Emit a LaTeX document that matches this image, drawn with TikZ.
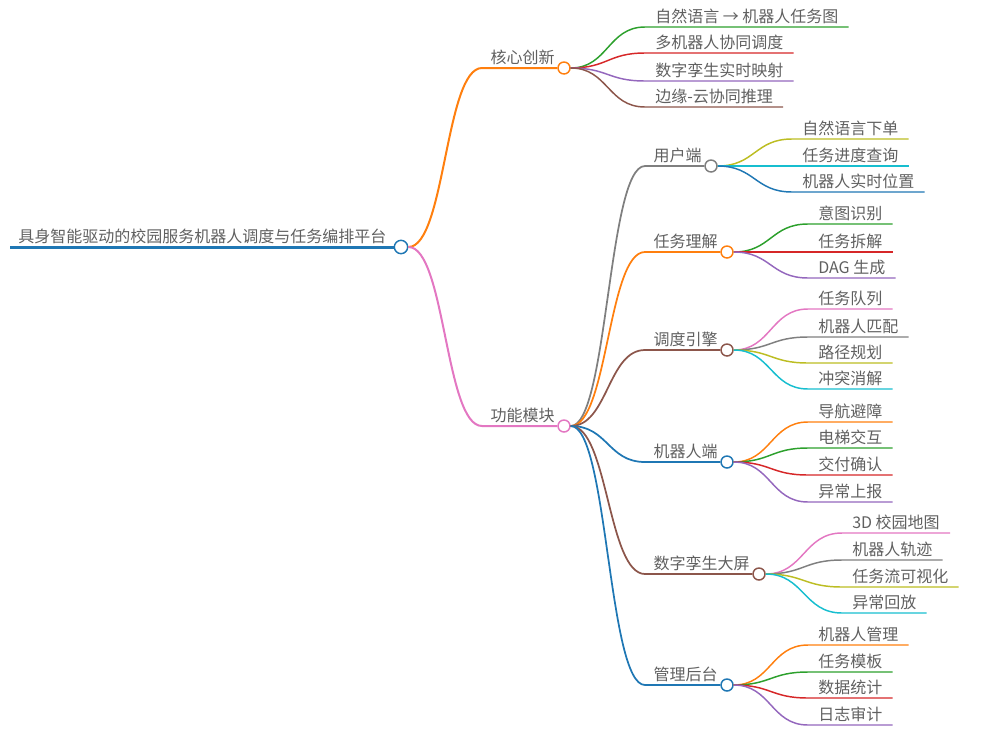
\documentclass[tikz,border=0pt]{standalone}
\usepackage{fontspec}
\setmainfont{Noto Sans CJK SC}
\usetikzlibrary{calc}

\definecolor{cblue}{HTML}{1F77B4}
\definecolor{corange}{HTML}{FF7F0E}
\definecolor{cgreen}{HTML}{2CA02C}
\definecolor{cred}{HTML}{D62728}
\definecolor{cpurple}{HTML}{9467BD}
\definecolor{cbrown}{HTML}{8C564B}
\definecolor{cpink}{HTML}{E377C2}
\definecolor{cgray}{HTML}{7F7F7F}
\definecolor{colive}{HTML}{BCBD22}
\definecolor{ccyan}{HTML}{17BECF}
\definecolor{textgray}{HTML}{606060}

\tikzset{
  txt/.style={font=\fontsize{12}{14}\selectfont, text=textgray, inner sep=0pt},
  hub/.style={circle, draw=#1, fill=white, line width=1.1pt, minimum size=9pt, inner sep=0pt},
  link/.style={to path={let \p1=(\tikztostart), \p2=(\tikztotarget) in
      .. controls ({(\x1+\x2)/2},\y1) and ({(\x1+\x2)/2},\y2) .. (\tikztotarget)}},
  mainline/.style={draw=#1, line width=1.5pt},
  subline/.style={draw=#1, line width=1.3pt},
  leafline/.style={draw=#1, line width=1.1pt}
}

\begin{document}
\begin{tikzpicture}[x=0.75pt,y=-0.75pt]
\useasboundingbox (0,0) rectangle (1003,750);

% root
\coordinate (s0) at (10,247);
\node[hub=cblue, minimum size=10pt] (root) at (401,247) {};
\node[txt, anchor=base west] (t0) at ([shift={(8,-5)}]s0) {具身智能驱动的校园服务机器人调度与任务编排平台};
\draw[cblue, line width=2.25pt] (s0) -- (root);

% first level
\coordinate (s1) at (482,68);
\node[hub=corange] (c1) at (564,68) {};
\node[txt, anchor=base east] (t1) at ([shift={(-9,-5)}]c1.center) {核心创新};
\draw[mainline=corange] (root.east) to[link] (s1) -- (c1);

\coordinate (s2) at (482,426);
\node[hub=cpink] (c2) at (564,426) {};
\node[txt, anchor=base east] (t2) at ([shift={(-9,-5)}]c2.center) {功能模块};
\draw[mainline=cpink] (root.east) to[link] (s2) -- (c2);

% core ideas
\coordinate (s11) at (645,27);
\coordinate (s12) at (645,53);
\coordinate (s13) at (645,81);
\coordinate (s14) at (645,107);
\node[txt, anchor=base west] (l11) at ([shift={(10,-5)}]s11) {自然语言 → 机器人任务图};
\node[txt, anchor=base west] (l12) at ([shift={(10,-5)}]s12) {多机器人协同调度};
\node[txt, anchor=base west] (l13) at ([shift={(10,-5)}]s13) {数字孪生实时映射};
\node[txt, anchor=base west] (l14) at ([shift={(10,-5)}]s14) {边缘-云协同推理};
\draw[leafline=cgreen] (c1.east) to[link] (s11) -- ($(l11.base east |- s11)+(10,0)$);
\draw[leafline=cred] (c1.east) to[link] (s12) -- ($(l12.base east |- s12)+(10,0)$);
\draw[leafline=cpurple] (c1.east) to[link] (s13) -- ($(l13.base east |- s13)+(10,0)$);
\draw[leafline=cbrown] (c1.east) to[link] (s14) -- ($(l14.base east |- s14)+(10,0)$);

% modules
\coordinate (s21) at (645,166);
\coordinate (s22) at (645,252);
\coordinate (s23) at (645,350);
\coordinate (s24) at (645,462);
\coordinate (s25) at (645,574);
\coordinate (s26) at (645,685);
\node[hub=cgray] (c21) at (711,166) {};
\node[hub=corange] (c22) at (727,252) {};
\node[hub=cbrown] (c23) at (727,350) {};
\node[hub=cblue] (c24) at (727,462) {};
\node[hub=cbrown] (c25) at (759,574) {};
\node[hub=cblue] (c26) at (727,685) {};
\node[txt, anchor=base east] (t21) at ([shift={(-9,-5)}]c21.center) {用户端};
\node[txt, anchor=base east] (t22) at ([shift={(-9,-5)}]c22.center) {任务理解};
\node[txt, anchor=base east] (t23) at ([shift={(-9,-5)}]c23.center) {调度引擎};
\node[txt, anchor=base east] (t24) at ([shift={(-9,-5)}]c24.center) {机器人端};
\node[txt, anchor=base east] (t25) at ([shift={(-9,-5)}]c25.center) {数字孪生大屏};
\node[txt, anchor=base east] (t26) at ([shift={(-9,-5)}]c26.center) {管理后台};
\draw[subline=cgray] (c2.east) to[link] (s21) -- (c21);
\draw[subline=corange] (c2.east) to[link] (s22) -- (c22);
\draw[subline=cbrown] (c2.east) to[link] (s23) -- (c23);
\draw[subline=cblue] (c2.east) to[link] (s24) -- (c24);
\draw[subline=cbrown] (c2.east) to[link] (s25) -- (c25);
\draw[subline=cblue] (c2.east) to[link] (s26) -- (c26);

% user side
\coordinate (s211) at (792,139);
\coordinate (s212) at (792,166);
\coordinate (s213) at (792,192);
\node[txt, anchor=base west] (l211) at ([shift={(10,-5)}]s211) {自然语言下单};
\node[txt, anchor=base west] (l212) at ([shift={(10,-5)}]s212) {任务进度查询};
\node[txt, anchor=base west] (l213) at ([shift={(10,-5)}]s213) {机器人实时位置};
\draw[leafline=colive] (c21.east) to[link] (s211) -- ($(l211.base east |- s211)+(10,0)$);
\draw[leafline=ccyan] (c21.east) to[link] (s212) -- ($(l212.base east |- s212)+(10,0)$);
\draw[leafline=cblue] (c21.east) to[link] (s213) -- ($(l213.base east |- s213)+(10,0)$);

% task understanding
\coordinate (s221) at (808,224);
\coordinate (s222) at (808,252);
\coordinate (s223) at (808,278);
\node[txt, anchor=base west] (l221) at ([shift={(10,-5)}]s221) {意图识别};
\node[txt, anchor=base west] (l222) at ([shift={(10,-5)}]s222) {任务拆解};
\node[txt, anchor=base west] (l223) at ([shift={(10,-5)}]s223) {DAG 生成};
\draw[leafline=cgreen] (c22.east) to[link] (s221) -- ($(l221.base east |- s221)+(10,0)$);
\draw[leafline=cred] (c22.east) to[link] (s222) -- ($(l222.base east |- s222)+(10,0)$);
\draw[leafline=cpurple] (c22.east) to[link] (s223) -- ($(l223.base east |- s223)+(10,0)$);

% scheduling engine
\coordinate (s231) at (808,309);
\coordinate (s232) at (808,337);
\coordinate (s233) at (808,363);
\coordinate (s234) at (808,389);
\node[txt, anchor=base west] (l231) at ([shift={(10,-5)}]s231) {任务队列};
\node[txt, anchor=base west] (l232) at ([shift={(10,-5)}]s232) {机器人匹配};
\node[txt, anchor=base west] (l233) at ([shift={(10,-5)}]s233) {路径规划};
\node[txt, anchor=base west] (l234) at ([shift={(10,-5)}]s234) {冲突消解};
\draw[leafline=cpink] (c23.east) to[link] (s231) -- ($(l231.base east |- s231)+(10,0)$);
\draw[leafline=cgray] (c23.east) to[link] (s232) -- ($(l232.base east |- s232)+(10,0)$);
\draw[leafline=colive] (c23.east) to[link] (s233) -- ($(l233.base east |- s233)+(10,0)$);
\draw[leafline=ccyan] (c23.east) to[link] (s234) -- ($(l234.base east |- s234)+(10,0)$);

% robot side
\coordinate (s241) at (808,422);
\coordinate (s242) at (808,448);
\coordinate (s243) at (808,475);
\coordinate (s244) at (808,502);
\node[txt, anchor=base west] (l241) at ([shift={(10,-5)}]s241) {导航避障};
\node[txt, anchor=base west] (l242) at ([shift={(10,-5)}]s242) {电梯交互};
\node[txt, anchor=base west] (l243) at ([shift={(10,-5)}]s243) {交付确认};
\node[txt, anchor=base west] (l244) at ([shift={(10,-5)}]s244) {异常上报};
\draw[leafline=corange] (c24.east) to[link] (s241) -- ($(l241.base east |- s241)+(10,0)$);
\draw[leafline=cgreen] (c24.east) to[link] (s242) -- ($(l242.base east |- s242)+(10,0)$);
\draw[leafline=cred] (c24.east) to[link] (s243) -- ($(l243.base east |- s243)+(10,0)$);
\draw[leafline=cpurple] (c24.east) to[link] (s244) -- ($(l244.base east |- s244)+(10,0)$);

% digital twin screen
\coordinate (s251) at (842,533);
\coordinate (s252) at (842,560);
\coordinate (s253) at (842,587);
\coordinate (s254) at (842,613);
\node[txt, anchor=base west] (l251) at ([shift={(10,-5)}]s251) {3D 校园地图};
\node[txt, anchor=base west] (l252) at ([shift={(10,-5)}]s252) {机器人轨迹};
\node[txt, anchor=base west] (l253) at ([shift={(10,-5)}]s253) {任务流可视化};
\node[txt, anchor=base west] (l254) at ([shift={(10,-5)}]s254) {异常回放};
\draw[leafline=cpink] (c25.east) to[link] (s251) -- ($(l251.base east |- s251)+(10,0)$);
\draw[leafline=cgray] (c25.east) to[link] (s252) -- ($(l252.base east |- s252)+(10,0)$);
\draw[leafline=colive] (c25.east) to[link] (s253) -- ($(l253.base east |- s253)+(10,0)$);
\draw[leafline=ccyan] (c25.east) to[link] (s254) -- ($(l254.base east |- s254)+(10,0)$);

% admin backend
\coordinate (s261) at (808,645);
\coordinate (s262) at (808,672);
\coordinate (s263) at (808,698);
\coordinate (s264) at (808,725);
\node[txt, anchor=base west] (l261) at ([shift={(10,-5)}]s261) {机器人管理};
\node[txt, anchor=base west] (l262) at ([shift={(10,-5)}]s262) {任务模板};
\node[txt, anchor=base west] (l263) at ([shift={(10,-5)}]s263) {数据统计};
\node[txt, anchor=base west] (l264) at ([shift={(10,-5)}]s264) {日志审计};
\draw[leafline=corange] (c26.east) to[link] (s261) -- ($(l261.base east |- s261)+(10,0)$);
\draw[leafline=cgreen] (c26.east) to[link] (s262) -- ($(l262.base east |- s262)+(10,0)$);
\draw[leafline=cred] (c26.east) to[link] (s263) -- ($(l263.base east |- s263)+(10,0)$);
\draw[leafline=cpurple] (c26.east) to[link] (s264) -- ($(l264.base east |- s264)+(10,0)$);
\end{tikzpicture}
\end{document}
